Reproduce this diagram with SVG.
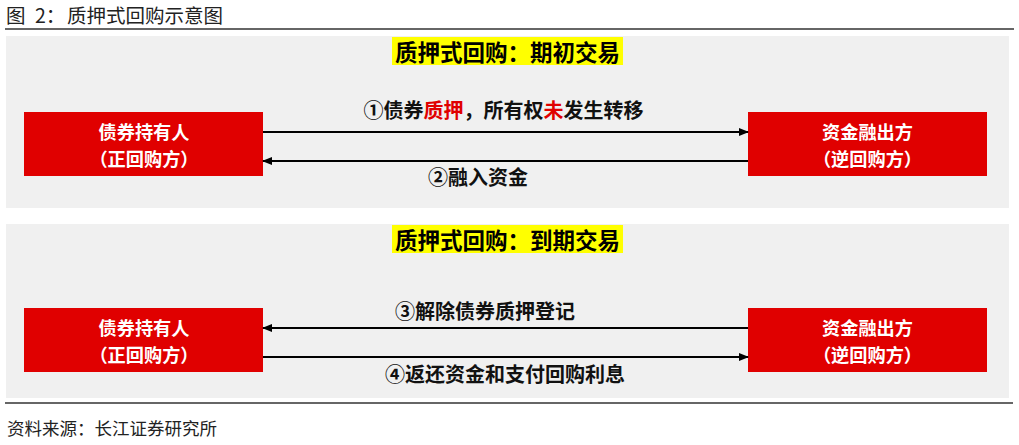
<svg xmlns="http://www.w3.org/2000/svg" width="1019" height="445" viewBox="0 0 1019 445">
<defs>
<style>
.cjk{font-family:"Noto Sans CJK SC","Noto Sans",sans-serif}
.cap{font-size:19.5px;fill:#222}
.src{font-size:17.5px;fill:#222}
.panel{fill:#f0f0f0}
.hl{fill:#ffff00}
.ttl{font-size:22.5px;font-weight:bold;fill:#000;text-anchor:middle}
.box{fill:#e00000}
.bt{font-size:18.2px;font-weight:bold;fill:#fff;text-anchor:middle}
.lbl{font-size:20px;font-weight:bold;fill:#111;text-anchor:middle}
.red{fill:#e00000}
.arr{stroke:#000;stroke-width:2;fill:none}
.rule{stroke:#333;stroke-width:1.5}
</style>
<marker id="ah" viewBox="0 0 10 10" refX="9" refY="5" markerWidth="10" markerHeight="10" markerUnits="userSpaceOnUse" orient="auto-start-reverse">
<path d="M0,1 L10,5 L0,9 z" fill="#000"/>
</marker>
</defs>
<rect width="1019" height="445" fill="#fff"/>
<g id="header">
<text class="cjk cap" x="6" y="23">图<tspan x="35">2：</tspan><tspan x="67">质押式回购示意图</tspan></text>
<line class="rule" x1="5" y1="29" x2="1014" y2="29"/>
</g>
<g id="panel-top">
<rect class="panel" x="6" y="36" width="1003" height="172"/>
<rect class="hl" x="392" y="37" width="231" height="28"/>
<text class="cjk ttl" x="507.5" y="61">质押式回购：期初交易</text>
</g>
<g id="panel-bottom">
<rect class="panel" x="6" y="224" width="1003" height="174"/>
<rect class="hl" x="392" y="225" width="231" height="28"/>
<text class="cjk ttl" x="507.5" y="249">质押式回购：到期交易</text>
</g>
<g id="holder-1">
<rect class="box" x="24" y="112" width="239" height="64"/>
<text class="cjk bt" x="144" y="138.5">债券持有人</text>
<text class="cjk bt" x="144" y="165.5">（正回购方）</text>
</g>
<g id="lender-1">
<rect class="box" x="748" y="112" width="239" height="64"/>
<text class="cjk bt" x="867.5" y="138.5">资金融出方</text>
<text class="cjk bt" x="867.5" y="165.5">（逆回购方）</text>
</g>
<g id="holder-2">
<rect class="box" x="24" y="308" width="239" height="64"/>
<text class="cjk bt" x="144" y="334.5">债券持有人</text>
<text class="cjk bt" x="144" y="361.5">（正回购方）</text>
</g>
<g id="lender-2">
<rect class="box" x="748" y="308" width="239" height="64"/>
<text class="cjk bt" x="867.5" y="334.5">资金融出方</text>
<text class="cjk bt" x="867.5" y="361.5">（逆回购方）</text>
</g>
<g id="connectors">
<line class="arr" x1="263" y1="132" x2="748" y2="132" marker-end="url(#ah)"/>
<line class="arr" x1="748" y1="161" x2="263" y2="161" marker-end="url(#ah)"/>
<line class="arr" x1="748" y1="328" x2="263" y2="328" marker-end="url(#ah)"/>
<line class="arr" x1="263" y1="357" x2="748" y2="357" marker-end="url(#ah)"/>
<text class="cjk lbl" x="503.5" y="118">①债券<tspan class="red">质押</tspan>，所有权<tspan class="red">未</tspan>发生转移</text>
<text class="cjk lbl" x="478" y="185">②融入资金</text>
<text class="cjk lbl" x="485" y="319">③解除债券质押登记</text>
<text class="cjk lbl" x="505" y="382" font-size="19.5">④返还资金和支付回购利息</text>
</g>
<g id="footer">
<line class="rule" x1="5" y1="403" x2="1013" y2="403"/>
<text class="cjk src" x="7" y="435">资料来源：长江证券研究所</text>
</g>
</svg>
